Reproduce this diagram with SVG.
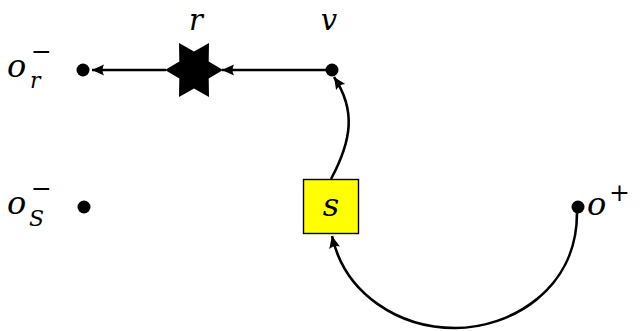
<svg xmlns="http://www.w3.org/2000/svg" width="643" height="331" viewBox="0 0 643 331">
<style>
text{font-family:"DejaVu Serif",serif;fill:#000}
.lbl{font-size:32px;font-style:italic}
.top{font-size:29px}
.sub{font-size:22px;font-style:italic}
.sup{font-size:25px}
.edge{fill:none;stroke:#000;stroke-width:2.6}
.dot{fill:#000}
</style>
<defs>
<marker id="ah" markerUnits="userSpaceOnUse" markerWidth="16" markerHeight="14" viewBox="-13 -7 16 14" refX="0" refY="0" orient="auto">
<path d="M0,0 L-12,-5.5 Q-9,0 -12,5.5 Z" fill="#000"/>
</marker>
</defs>
<g id="connectors">
<path class="edge" d="M326,70 L222,70" marker-end="url(#ah)"/>
<path class="edge" d="M166,70 L92,70" marker-end="url(#ah)"/>
<path class="edge" d="M331,179 C352,140 356,110 334,77" marker-end="url(#ah)"/>
<path class="edge" d="M577,213 C577,290 510,328 455,328 C400,328 345,295 332,236" marker-end="url(#ah)"/>
</g>
<g id="o_r_minus">
<circle class="dot" cx="83" cy="70" r="6.5"/>
<text class="lbl" x="7" y="77">o</text>
<text class="sub" x="30" y="88">r</text>
<text class="sup" x="31" y="60">−</text>
</g>
<g id="r">
<polygon fill="#000" points="165,70 179.3,61.5 179,43 194,51.5 209,43 208.7,61.5 223,70 208.7,78.5 209,97 194,88.5 179,97 179.3,78.5"/>
<text class="lbl top" x="196" y="30" text-anchor="middle">r</text>
</g>
<g id="v">
<circle class="dot" cx="332" cy="70" r="6.5"/>
<text class="lbl top" x="329" y="30" text-anchor="middle">v</text>
</g>
<g id="s">
<rect x="303.5" y="179.5" width="55" height="54" fill="#ffff00" stroke="#000" stroke-width="1.4"/>
<text class="lbl" x="331" y="216" text-anchor="middle">s</text>
</g>
<g id="o_S_minus">
<circle class="dot" cx="84" cy="207" r="6.5"/>
<text class="lbl" x="7" y="214">o</text>
<text class="sub" x="29" y="226">S</text>
<text class="sup" x="31" y="197">−</text>
</g>
<g id="o_plus">
<circle class="dot" cx="578" cy="207" r="6.5"/>
<text class="lbl" x="587" y="215">o</text>
<text class="sup" x="609" y="201">+</text>
</g>
</svg>
